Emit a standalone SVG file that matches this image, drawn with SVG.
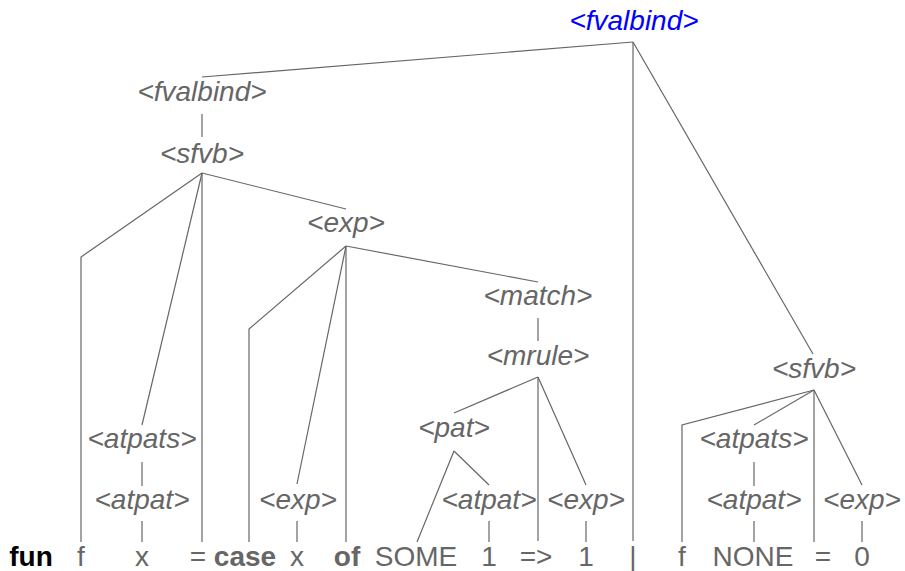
<svg xmlns="http://www.w3.org/2000/svg" width="905" height="571" viewBox="0 0 905 571">
<style>
.nt{font-family:"Liberation Sans",Arial,sans-serif;font-size:28px;font-style:italic;fill:#666;text-anchor:middle}
.root{fill:#0000ff}
.t{font-family:"Liberation Sans",Arial,sans-serif;font-size:28px;fill:#666;text-anchor:middle}
.kw{font-weight:bold}
.blk{fill:#000}
#connectors line,#connectors polyline{stroke:#666;stroke-width:1.2;fill:none}
</style>
<rect width="905" height="571" fill="#fff"/>
<g id="connectors">
<line x1="633" y1="42" x2="202" y2="77"/>
<line x1="633" y1="42" x2="633" y2="541"/>
<line x1="633" y1="42" x2="813" y2="354"/>
<line x1="202" y1="114" x2="202" y2="137"/>
<polyline points="202,173 81,257 81,542"/>
<line x1="202" y1="173" x2="142" y2="425"/>
<line x1="202" y1="173" x2="202" y2="542"/>
<line x1="202" y1="173" x2="346" y2="209"/>
<polyline points="346,246 249,329 249,542"/>
<line x1="346" y1="246" x2="297" y2="484"/>
<line x1="346" y1="246" x2="346" y2="542"/>
<line x1="346" y1="246" x2="538" y2="282"/>
<line x1="538" y1="318" x2="538" y2="341"/>
<line x1="538" y1="377" x2="454" y2="413"/>
<line x1="538" y1="377" x2="538" y2="541"/>
<line x1="538" y1="377" x2="586" y2="485"/>
<line x1="454" y1="451" x2="417" y2="542"/>
<line x1="454" y1="451" x2="489" y2="485"/>
<line x1="489" y1="521" x2="489" y2="542"/>
<line x1="586" y1="521" x2="586" y2="542"/>
<polyline points="814,390 682,425 682,542"/>
<line x1="814" y1="390" x2="754" y2="425"/>
<line x1="814" y1="390" x2="814" y2="542"/>
<line x1="814" y1="390" x2="862" y2="485"/>
<line x1="754" y1="462" x2="754" y2="486"/>
<line x1="754" y1="521" x2="754" y2="542"/>
<line x1="862" y1="521" x2="862" y2="542"/>
<line x1="142" y1="462" x2="142" y2="486"/>
<line x1="142" y1="521" x2="142" y2="542"/>
<line x1="297" y1="521" x2="297" y2="542"/>
</g>
<g id="n-root"><text class="nt root" x="634" y="30">&lt;fvalbind&gt;</text></g>
<g id="n-fvalbind"><text class="nt" x="202" y="101">&lt;fvalbind&gt;</text></g>
<g id="n-sfvb1"><text class="nt" x="202" y="163">&lt;sfvb&gt;</text></g>
<g id="n-exp1"><text class="nt" x="346" y="232">&lt;exp&gt;</text></g>
<g id="n-match"><text class="nt" x="538" y="305">&lt;match&gt;</text></g>
<g id="n-mrule"><text class="nt" x="538" y="365">&lt;mrule&gt;</text></g>
<g id="n-pat"><text class="nt" x="454" y="437">&lt;pat&gt;</text></g>
<g id="n-atpat2"><text class="nt" x="489" y="509">&lt;atpat&gt;</text></g>
<g id="n-exp3"><text class="nt" x="586" y="509">&lt;exp&gt;</text></g>
<g id="n-sfvb2"><text class="nt" x="814" y="378">&lt;sfvb&gt;</text></g>
<g id="n-atpats2"><text class="nt" x="754" y="448">&lt;atpats&gt;</text></g>
<g id="n-atpat3"><text class="nt" x="754" y="509">&lt;atpat&gt;</text></g>
<g id="n-exp4"><text class="nt" x="862" y="509">&lt;exp&gt;</text></g>
<g id="n-atpats1"><text class="nt" x="142" y="448">&lt;atpats&gt;</text></g>
<g id="n-atpat1"><text class="nt" x="142" y="509">&lt;atpat&gt;</text></g>
<g id="n-exp2"><text class="nt" x="298" y="509">&lt;exp&gt;</text></g>
<g id="terminals">
<text class="t kw blk" x="31" y="566">fun</text>
<text class="t" x="81" y="566">f</text>
<text class="t" x="142" y="566">x</text>
<text class="t" x="198" y="566">=</text>
<text class="t kw" x="245" y="566">case</text>
<text class="t" x="297" y="566">x</text>
<text class="t kw" x="347" y="566">of</text>
<text class="t" x="416" y="566">SOME</text>
<text class="t" x="489" y="566">1</text>
<text class="t" x="536" y="566">=&gt;</text>
<text class="t" x="586" y="566">1</text>
<text class="t" x="633" y="566">|</text>
<text class="t" x="682" y="566">f</text>
<text class="t" x="753" y="566">NONE</text>
<text class="t" x="823" y="566">=</text>
<text class="t" x="862" y="566">0</text>
</g>
</svg>
